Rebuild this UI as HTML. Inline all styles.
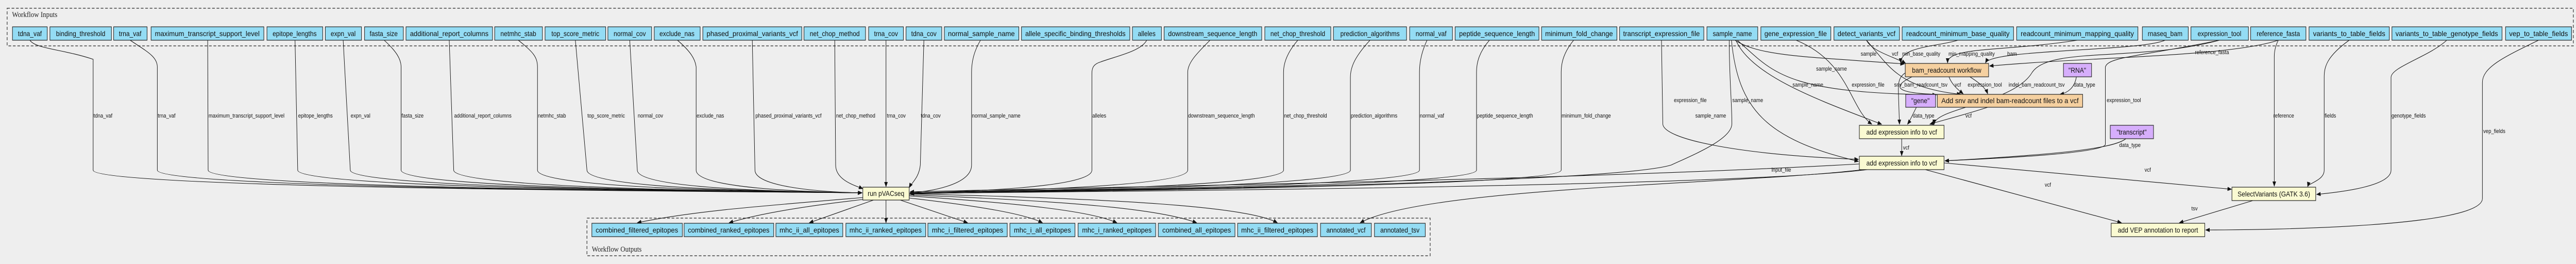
<!DOCTYPE html>
<html><head><meta charset="utf-8"><style>
html,body{margin:0;padding:0;background:#eeeeee;width:100%;height:100%;overflow:hidden;}
svg{display:block;width:100vw;height:100vh;}
.in{fill:#94dcf4;stroke:#222;stroke-width:1.2}
.st{fill:#fafad2;stroke:#222;stroke-width:1.2}
.sw{fill:#f5d0a0;stroke:#222;stroke-width:1.2}
.pu{fill:#d6aefc;stroke:#222;stroke-width:1.2}
.bt{font-family:"Liberation Sans",sans-serif;font-size:14px;fill:#111;text-anchor:middle;dominant-baseline:central}
.el{font-family:"Liberation Sans",sans-serif;font-size:11px;fill:#111}
.ea{fill:none;stroke:#111;stroke-width:1.1;marker-end:url(#ah)}
.cl{fill:none;stroke:#444;stroke-width:1.5;stroke-dasharray:6,4}
.ct{font-family:"Liberation Serif",serif;font-size:15px;fill:#222}
</style></head><body>
<svg viewBox="0 0 5780 512" preserveAspectRatio="none" xmlns="http://www.w3.org/2000/svg">
<defs><marker id="ah" markerWidth="10" markerHeight="8" refX="9" refY="4" orient="auto" markerUnits="userSpaceOnUse"><path d="M0,0 L10,4 L0,8 z" fill="#111"/></marker></defs>
<rect x="0" y="0" width="5780" height="512" fill="#eeeeee"/>
<rect class="cl" x="16" y="16" width="5758" height="73"/>
<text class="ct" x="27" y="33">Workflow Inputs</text>
<rect class="cl" x="1317" y="423" width="1892" height="73"/>
<text class="ct" x="1328" y="488">Workflow Outputs</text>

<g>
<path class="ea" d="M67,78 C80,95 140,95 209,115 L209,330 C209,368 1800,372 1934,374"/>
<path class="ea" d="M292,78 C330,100 353,110 353,130 L353,330 C353,368 1800,372 1934,374"/>
<path class="ea" d="M466,78 L467,330 C467,368 1800,372 1934,374"/>
<path class="ea" d="M662,78 L668,330 C668,368 1800,372 1934,374"/>
<path class="ea" d="M770,78 L786,330 C786,368 1800,372 1934,374"/>
<path class="ea" d="M862,78 C890,100 900,115 900,130 L900,330 C900,368 1800,372 1934,374"/>
<path class="ea" d="M1008,78 L1018,330 C1018,368 1800,372 1934,374"/>
<path class="ea" d="M1163,78 C1195,100 1206,110 1206,130 L1206,330 C1206,368 1800,372 1934,374"/>
<path class="ea" d="M1291,78 L1317,330 C1317,368 1800,372 1934,374"/>
<path class="ea" d="M1413,78 L1430,330 C1430,368 1800,372 1934,374"/>
<path class="ea" d="M1520,78 C1550,100 1560,115 1562,130 L1562,330 C1562,365 1800,372 1934,374"/>
<path class="ea" d="M1688,78 L1694,330 C1694,360 1820,372 1934,374"/>
<path class="ea" d="M1873,78 L1875,320 C1875,350 1920,360 1936,366"/>
<path class="ea" d="M1988,78 L1988,362"/>
<path class="ea" d="M2073,78 L2065,320 C2062,345 2045,355 2040,364"/>
</g>
<g class="el">
<text x="210" y="228">tdna_vaf</text><text x="354" y="228">trna_vaf</text>
<text x="468" y="228">maximum_transcript_support_level</text><text x="669" y="228">epitope_lengths</text>
<text x="787" y="228">expn_val</text><text x="901" y="228">fasta_size</text>
<text x="1019" y="228">additional_report_columns</text><text x="1207" y="228">netmhc_stab</text>
<text x="1318" y="228">top_score_metric</text><text x="1431" y="228">normal_cov</text>
<text x="1563" y="228">exclude_nas</text><text x="1695" y="228">phased_proximal_variants_vcf</text>
<text x="1876" y="228">net_chop_method</text><text x="1990" y="228">trna_cov</text>
<text x="2066" y="228">tdna_cov</text>
</g>
<g>
<path class="ea" d="M2200,78 C2185,100 2180,120 2180,140 L2180,320 C2180,360 2080,372 2042,374"/>
<path class="ea" d="M2573,78 C2560,100 2500,110 2470,120 C2450,125 2450,135 2450,145 L2450,330 C2450,365 2150,372 2042,374"/>
<path class="ea" d="M2715,78 C2690,100 2665,120 2665,140 L2665,330 C2665,365 2150,372 2042,374"/>
<path class="ea" d="M2912,78 C2890,100 2880,120 2880,140 L2880,330 C2880,365 2150,372 2042,374"/>
<path class="ea" d="M3074,78 C3040,110 3030,130 3030,150 L3030,330 C3030,365 2150,372 2042,374"/>
<path class="ea" d="M3202,78 C3190,100 3185,120 3185,140 L3185,330 C3185,365 2150,372 2042,374"/>
<path class="ea" d="M3342,78 C3320,100 3313,120 3313,140 L3313,330 C3313,365 2150,372 2042,374"/>
<path class="ea" d="M3531,78 C3510,100 3503,120 3503,140 L3503,330 C3503,365 2150,372 2042,376"/>
<path class="ea" d="M3880,78 C3880,150 3886,200 3886,240 C3886,270 3800,300 3750,320 C3600,360 2200,372 2042,376"/>
</g>
<g class="el">
<text x="2181" y="228">normal_sample_name</text><text x="2451" y="228">alleles</text>
<text x="2666" y="228">downstream_sequence_length</text><text x="2881" y="228">net_chop_threshold</text>
<text x="3031" y="228">prediction_algorithms</text><text x="3186" y="228">normal_vaf</text>
<text x="3314" y="228">peptide_sequence_length</text><text x="3504" y="228">minimum_fold_change</text>
<text x="3804" y="228">sample_name</text>
</g>

<g>
<path class="ea" d="M3893,78 C3950,110 4060,110 4273,124"/>
<path class="ea" d="M3898,78 C3980,140 4000,180 4345,184"/>
<path class="ea" d="M3895,78 C3930,150 4100,200 4222,241"/>
<path class="ea" d="M3885,78 C3900,210 3960,270 4170,313"/>
<path class="ea" d="M4030,78 C4150,120 4150,210 4200,241"/>
<path class="ea" d="M3728,78 L3731,240 C3731,270 3900,300 4170,309"/>
<path class="ea" d="M4188,78 C4200,100 4250,110 4276,123"/>
<path class="ea" d="M4188,78 C4240,130 4260,170 4400,183"/>
<path class="ea" d="M4393,78 C4350,90 4263,90 4265,122"/>
<path class="ea" d="M4661,78 C4500,100 4370,90 4370,122"/>
<path class="ea" d="M4858,78 C4800,100 4470,95 4455,122"/>
<path class="ea" d="M4980,78 C4800,120 4600,90 4560,140 C4520,200 4340,210 4340,241"/>
<path class="ea" d="M4980,78 C4800,110 4730,110 4724,130 L4724,280 C4720,300 4400,310 4364,312"/>
<path class="ea" d="M5112,78 C5000,110 4700,110 4464,128"/>
<path class="ea" d="M5112,78 C5105,90 5103,100 5103,110 L5103,361"/>
<path class="ea" d="M5271,78 C5220,110 5215,130 5215,150 L5215,330 C5215,350 5180,355 5178,362"/>
<path class="ea" d="M5490,78 C5450,110 5365,130 5365,150 L5365,330 C5365,360 5260,372 5198,377"/>
<path class="ea" d="M5696,78 C5620,110 5570,130 5570,160 L5570,385 C5570,440 5100,446 4949,446"/>
<path class="ea" d="M4290,149 C4240,170 4250,185 4400,183"/>
<path class="ea" d="M4373,149 C4380,165 4395,175 4405,182"/>
<path class="ea" d="M4420,149 C4440,160 4455,170 4460,182"/>
<path class="ea" d="M4278,140 C4255,150 4260,170 4260,190 L4262,241"/>
<path class="ea" d="M4300,208 C4290,225 4285,235 4280,241"/>
<path class="ea" d="M4460,208 C4400,225 4350,235 4330,241"/>
<path class="ea" d="M4659,149 C4655,170 4640,180 4622,183"/>
<path class="ea" d="M4267,269 L4267,302"/>
<path class="ea" d="M4770,269 C4740,290 4600,300 4364,312"/>
<path class="ea" d="M4172,318 C3500,350 2600,360 2042,372"/>
<path class="ea" d="M4190,329 C3900,360 2700,370 2042,375"/>
<path class="ea" d="M4362,316 L5007,367"/>
<path class="ea" d="M4320,329 L4760,432"/>
<path class="ea" d="M5055,389 L4890,432"/>
<path class="ea" d="M4180,329 C3900,358 3200,362 3052,432"/>
</g>
<g class="el">
<text x="4175" y="108">sample</text><text x="4075" y="137">sample_name</text>
<text x="4022" y="168">sample_name</text><text x="4155" y="168">expression_file</text>
<text x="3756" y="198">expression_file</text><text x="3887" y="198">sample_name</text>
<text x="4245" y="108">vcf</text><text x="4268" y="108">min_base_quality</text>
<text x="4372" y="108">min_mapping_quality</text><text x="4504" y="108">bam</text>
<text x="4925" y="105">reference_fasta</text>
<text x="4250" y="168">snv_bam_readcount_tsv</text><text x="4386" y="168">vcf</text>
<text x="4415" y="168">expression_tool</text><text x="4507" y="168">indel_bam_readcount_tsv</text>
<text x="4653" y="168">data_type</text><text x="4727" y="198">expression_tool</text>
<text x="4292" y="228">data_type</text><text x="4410" y="228">vcf</text>
<text x="5101" y="228">reference</text><text x="5216" y="228">fields</text><text x="5366" y="228">genotype_fields</text>
<text x="5572" y="258">vep_fields</text>
<text x="4270" y="290">vcf</text><text x="4755" y="285">data_type</text>
<text x="3975" y="333">input_file</text><text x="4812" y="333">vcf</text>
<text x="4588" y="362">vcf</text><text x="4917" y="408">tsv</text>
</g>

<g>
<path class="ea" d="M1938,383 C1700,400 1550,410 1430,432"/>
<path class="ea" d="M1945,386 C1800,400 1700,415 1636,432"/>
<path class="ea" d="M1960,388 L1816,432"/>
<path class="ea" d="M1988,388 L1988,432"/>
<path class="ea" d="M2020,388 L2171,432"/>
<path class="ea" d="M2040,384 C2200,400 2300,415 2339,432"/>
<path class="ea" d="M2040,380 C2300,395 2450,410 2506,432"/>
<path class="ea" d="M2040,378 C2400,390 2600,405 2685,432"/>
<path class="ea" d="M2040,376 C2500,385 2800,400 2866,432"/>
</g>

<g>
<rect class="in" x="28" y="52" width="78" height="26"/><text class="bt" x="67" y="65">tdna_vaf</text>
<rect class="in" x="112" y="52" width="138" height="26"/><text class="bt" x="181" y="65">binding_threshold</text>
<rect class="in" x="255" y="52" width="75" height="26"/><text class="bt" x="292" y="65">trna_vaf</text>
<rect class="in" x="339" y="52" width="253" height="26"/><text class="bt" x="465" y="65" textLength="235" lengthAdjust="spacingAndGlyphs">maximum_transcript_support_level</text>
<rect class="in" x="599" y="52" width="125" height="26"/><text class="bt" x="661" y="65">epitope_lengths</text>
<rect class="in" x="730" y="52" width="81" height="26"/><text class="bt" x="770" y="65">expn_val</text>
<rect class="in" x="818" y="52" width="87" height="26"/><text class="bt" x="861" y="65">fasta_size</text>
<rect class="in" x="911" y="52" width="194" height="26"/><text class="bt" x="1008" y="65" textLength="176" lengthAdjust="spacingAndGlyphs">additional_report_columns</text>
<rect class="in" x="1110" y="52" width="107" height="26"/><text class="bt" x="1163" y="65">netmhc_stab</text>
<rect class="in" x="1223" y="52" width="136" height="26"/><text class="bt" x="1291" y="65">top_score_metric</text>
<rect class="in" x="1364" y="52" width="98" height="26"/><text class="bt" x="1413" y="65">normal_cov</text>
<rect class="in" x="1468" y="52" width="103" height="26"/><text class="bt" x="1519" y="65">exclude_nas</text>
<rect class="in" x="1577" y="52" width="222" height="26"/><text class="bt" x="1688" y="65" textLength="205" lengthAdjust="spacingAndGlyphs">phased_proximal_variants_vcf</text>
<rect class="in" x="1804" y="52" width="138" height="26"/><text class="bt" x="1873" y="65">net_chop_method</text>
<rect class="in" x="1949" y="52" width="78" height="26"/><text class="bt" x="1988" y="65">trna_cov</text>
<rect class="in" x="2033" y="52" width="80" height="26"/><text class="bt" x="2073" y="65">tdna_cov</text>
<rect class="in" x="2119" y="52" width="167" height="26"/><text class="bt" x="2202" y="65" textLength="150" lengthAdjust="spacingAndGlyphs">normal_sample_name</text>
<rect class="in" x="2292" y="52" width="243" height="26"/><text class="bt" x="2413" y="65" textLength="225" lengthAdjust="spacingAndGlyphs">allele_specific_binding_thresholds</text>
<rect class="in" x="2541" y="52" width="65" height="26"/><text class="bt" x="2573" y="65">alleles</text>
<rect class="in" x="2612" y="52" width="219" height="26"/><text class="bt" x="2721" y="65" textLength="200" lengthAdjust="spacingAndGlyphs">downstream_sequence_length</text>
<rect class="in" x="2838" y="52" width="148" height="26"/><text class="bt" x="2912" y="65">net_chop_threshold</text>
<rect class="in" x="2992" y="52" width="164" height="26"/><text class="bt" x="3074" y="65">prediction_algorithms</text>
<rect class="in" x="3163" y="52" width="96" height="26"/><text class="bt" x="3211" y="65">normal_vaf</text>
<rect class="in" x="3265" y="52" width="188" height="26"/><text class="bt" x="3359" y="65" textLength="170" lengthAdjust="spacingAndGlyphs">peptide_sequence_length</text>
<rect class="in" x="3459" y="52" width="169" height="26"/><text class="bt" x="3543" y="65" textLength="152" lengthAdjust="spacingAndGlyphs">minimum_fold_change</text>
<rect class="in" x="3634" y="52" width="189" height="26"/><text class="bt" x="3728" y="65" textLength="172" lengthAdjust="spacingAndGlyphs">transcript_expression_file</text>
<rect class="in" x="3830" y="52" width="114" height="26"/><text class="bt" x="3887" y="65">sample_name</text>
<rect class="in" x="3951" y="52" width="157" height="26"/><text class="bt" x="4029" y="65" textLength="140" lengthAdjust="spacingAndGlyphs">gene_expression_file</text>
<rect class="in" x="4115" y="52" width="147" height="26"/><text class="bt" x="4188" y="65" textLength="130" lengthAdjust="spacingAndGlyphs">detect_variants_vcf</text>
<rect class="in" x="4268" y="52" width="250" height="26"/><text class="bt" x="4393" y="65" textLength="232" lengthAdjust="spacingAndGlyphs">readcount_minimum_base_quality</text>
<rect class="in" x="4525" y="52" width="272" height="26"/><text class="bt" x="4661" y="65" textLength="254" lengthAdjust="spacingAndGlyphs">readcount_minimum_mapping_quality</text>
<rect class="in" x="4807" y="52" width="103" height="26"/><text class="bt" x="4858" y="65">rnaseq_bam</text>
<rect class="in" x="4916" y="52" width="129" height="26"/><text class="bt" x="4980" y="65">expression_tool</text>
<rect class="in" x="5050" y="52" width="124" height="26"/><text class="bt" x="5112" y="65">reference_fasta</text>
<rect class="in" x="5181" y="52" width="180" height="26"/><text class="bt" x="5271" y="65" textLength="162" lengthAdjust="spacingAndGlyphs">variants_to_table_fields</text>
<rect class="in" x="5367" y="52" width="247" height="26"/><text class="bt" x="5490" y="65" textLength="230" lengthAdjust="spacingAndGlyphs">variants_to_table_genotype_fields</text>
<rect class="in" x="5622" y="52" width="148" height="26"/><text class="bt" x="5696" y="65" textLength="132" lengthAdjust="spacingAndGlyphs">vep_to_table_fields</text>
</g>

<g>
<rect class="sw" x="4275" y="123" width="187" height="26"/><text class="bt" x="4368" y="136">bam_readcount workflow</text>
<rect class="pu" x="4630" y="123" width="63" height="26"/><text class="bt" x="4661" y="136">"RNA"</text>
<rect class="pu" x="4276" y="183" width="67" height="25"/><text class="bt" x="4309" y="195">"gene"</text>
<rect class="sw" x="4347" y="183" width="326" height="25"/><text class="bt" x="4510" y="195" textLength="308" lengthAdjust="spacingAndGlyphs">Add snv and indel bam-readcount files to a vcf</text>
<rect class="st" x="4172" y="243" width="190" height="26"/><text class="bt" x="4267" y="256">add expression info to vcf</text>
<rect class="pu" x="4735" y="243" width="97" height="26"/><text class="bt" x="4783" y="256">"transcript"</text>
<rect class="st" x="4172" y="303" width="190" height="26"/><text class="bt" x="4267" y="316">add expression info to vcf</text>
<rect class="st" x="5008" y="363" width="188" height="26"/><text class="bt" x="5102" y="376">SelectVariants (GATK 3.6)</text>
<rect class="st" x="1936" y="363" width="104" height="25"/><text class="bt" x="1988" y="375">run pVACseq</text>
<rect class="st" x="4737" y="433" width="210" height="26"/><text class="bt" x="4842" y="446">add VEP annotation to report</text>
</g>

<g>
<rect class="in" x="1328" y="433" width="203" height="26"/><text class="bt" x="1429" y="446" textLength="185" lengthAdjust="spacingAndGlyphs">combined_filtered_epitopes</text>
<rect class="in" x="1535" y="433" width="201" height="26"/><text class="bt" x="1635" y="446" textLength="183" lengthAdjust="spacingAndGlyphs">combined_ranked_epitopes</text>
<rect class="in" x="1741" y="433" width="150" height="26"/><text class="bt" x="1816" y="446" textLength="134" lengthAdjust="spacingAndGlyphs">mhc_ii_all_epitopes</text>
<rect class="in" x="1898" y="433" width="179" height="26"/><text class="bt" x="1987" y="446" textLength="162" lengthAdjust="spacingAndGlyphs">mhc_ii_ranked_epitopes</text>
<rect class="in" x="2082" y="433" width="178" height="26"/><text class="bt" x="2171" y="446" textLength="160" lengthAdjust="spacingAndGlyphs">mhc_i_filtered_epitopes</text>
<rect class="in" x="2266" y="433" width="146" height="26"/><text class="bt" x="2339" y="446" textLength="128" lengthAdjust="spacingAndGlyphs">mhc_i_all_epitopes</text>
<rect class="in" x="2419" y="433" width="174" height="26"/><text class="bt" x="2506" y="446" textLength="156" lengthAdjust="spacingAndGlyphs">mhc_i_ranked_epitopes</text>
<rect class="in" x="2599" y="433" width="172" height="26"/><text class="bt" x="2685" y="446" textLength="154" lengthAdjust="spacingAndGlyphs">combined_all_epitopes</text>
<rect class="in" x="2777" y="433" width="179" height="26"/><text class="bt" x="2866" y="446" textLength="162" lengthAdjust="spacingAndGlyphs">mhc_ii_filtered_epitopes</text>
<rect class="in" x="2963" y="433" width="114" height="26"/><text class="bt" x="3020" y="446">annotated_vcf</text>
<rect class="in" x="3084" y="433" width="114" height="26"/><text class="bt" x="3141" y="446">annotated_tsv</text>
</g>
</svg>
</body></html>
